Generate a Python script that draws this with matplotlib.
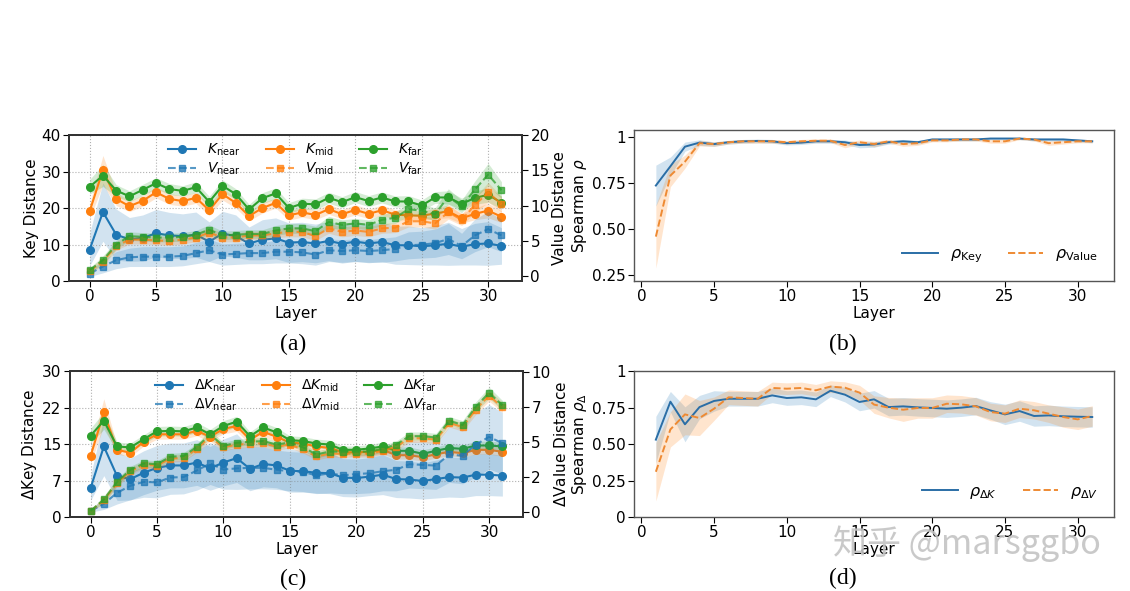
import numpy as np
import matplotlib.pyplot as plt
from matplotlib.ticker import FormatStrFormatter

# ---- data ----
layers = np.arange(32)
rho_layers = np.arange(1, 32)

# (a) key distance (left axis) / value distance (right axis)
k_near = [8.6, 18.9, 12.7, 11.4, 11.8, 13.1, 12.5, 12.3, 12.7, 10.8, 13.0, 12.3, 10.3, 11.3, 11.7, 10.5,
          10.7, 10.3, 11.0, 10.2, 10.8, 10.3, 10.7, 9.8, 9.8, 9.5, 9.8, 10.2, 9.4, 10.1, 10.3, 9.6]
k_near_sd = [4.5, 8.0, 7.0, 6.0, 6.3, 6.5, 6.3, 6.1, 6.2, 5.4, 6.1, 5.8, 4.5, 5.5, 5.6, 5.4,
             5.4, 5.3, 5.4, 5.3, 5.4, 5.3, 5.4, 5.2, 5.3, 5.1, 5.4, 5.9, 5.0, 5.7, 6.0, 5.0]
k_mid = [19.1, 30.4, 22.5, 20.5, 22.0, 24.3, 22.5, 21.9, 22.8, 19.4, 23.8, 21.4, 17.8, 20.0, 21.4, 18.0,
         18.8, 18.1, 19.7, 18.3, 19.5, 18.4, 19.4, 18.2, 18.0, 17.9, 18.5, 19.1, 17.2, 18.4, 19.3, 17.6]
k_mid_sd = [2.0, 4.0, 1.8, 1.5, 1.5, 1.5, 1.5, 1.4, 1.5, 1.5, 1.6, 1.4, 1.3, 1.4, 1.4, 1.3,
            1.3, 1.3, 1.4, 1.3, 1.4, 1.3, 1.4, 1.3, 1.4, 1.3, 1.4, 1.8, 1.4, 1.6, 2.0, 1.6]
k_far = [25.8, 28.9, 24.8, 23.2, 25.0, 26.8, 25.2, 24.7, 25.7, 21.7, 26.1, 23.8, 19.6, 22.7, 24.0, 20.0,
         21.2, 21.0, 22.8, 21.6, 23.0, 21.9, 22.9, 21.8, 21.8, 20.7, 22.9, 22.9, 21.1, 22.8, 23.6, 21.5]
k_far_sd = [2.0, 3.0, 1.6, 1.5, 1.5, 1.5, 1.5, 1.4, 1.5, 1.5, 1.6, 1.5, 1.4, 1.5, 1.5, 1.5,
            1.5, 1.5, 1.5, 1.5, 1.5, 1.5, 1.5, 1.5, 1.6, 1.5, 1.6, 1.8, 1.6, 1.8, 2.0, 1.8]
v_near = [0.4, 1.4, 2.3, 2.7, 2.8, 2.8, 2.8, 2.9, 3.3, 3.7, 3.1, 3.2, 3.3, 3.3, 3.5, 3.5,
          3.4, 3.1, 3.7, 3.6, 3.7, 3.6, 3.7, 3.9, 4.4, 4.5, 4.7, 5.3, 4.3, 5.8, 6.7, 5.8]
v_near_sd = [0.4, 0.9, 1.2, 1.3, 1.4, 1.4, 1.4, 1.4, 1.5, 1.6, 1.5, 1.5, 1.5, 1.5, 1.6, 1.6,
             1.6, 1.5, 1.6, 1.6, 1.6, 1.6, 1.7, 1.7, 1.9, 1.9, 2.0, 2.2, 1.8, 2.3, 2.5, 2.3]
v_mid = [0.8, 2.1, 4.3, 5.2, 5.2, 5.1, 5.0, 5.2, 5.5, 6.2, 5.5, 5.5, 5.8, 5.8, 6.1, 6.3,
         6.3, 5.7, 6.8, 6.3, 6.5, 6.3, 6.8, 6.9, 7.8, 7.8, 7.5, 9.1, 8.0, 10.1, 11.9, 10.2]
v_mid_sd = [0.3, 0.6, 0.6, 0.6, 0.6, 0.6, 0.6, 0.6, 0.6, 0.7, 0.6, 0.6, 0.6, 0.6, 0.6, 0.7,
            0.7, 0.6, 0.7, 0.7, 0.7, 0.7, 0.7, 0.7, 0.8, 0.8, 0.8, 1.0, 0.8, 1.1, 1.4, 1.1]
v_far = [0.9, 2.3, 4.5, 5.7, 5.6, 5.5, 5.5, 5.6, 5.9, 6.6, 5.8, 5.9, 6.0, 6.0, 6.5, 6.8,
         6.8, 6.4, 7.7, 7.3, 7.5, 7.3, 8.0, 8.3, 9.5, 9.3, 8.8, 11.3, 9.9, 12.3, 14.4, 12.2]
v_far_sd = [0.3, 0.6, 0.6, 0.6, 0.6, 0.6, 0.6, 0.6, 0.6, 0.7, 0.6, 0.6, 0.6, 0.6, 0.7, 0.7,
            0.7, 0.7, 0.8, 0.7, 0.7, 0.7, 0.8, 0.8, 0.9, 0.9, 0.9, 1.1, 0.9, 1.2, 1.6, 1.2]

# (c) delta key distance / delta value distance
dk_near = [5.9, 14.5, 8.4, 7.8, 9.1, 10.1, 10.6, 10.6, 11.2, 10.0, 11.2, 12.1, 9.9, 10.9, 10.6, 9.5,
           9.4, 9.1, 9.0, 8.1, 8.0, 8.3, 8.7, 7.8, 7.7, 7.4, 7.8, 8.2, 8.1, 8.7, 8.7, 8.5]
dk_near_sd = [2.5, 6.0, 5.0, 4.3, 4.5, 4.6, 4.6, 4.6, 4.7, 4.5, 4.8, 5.0, 4.5, 4.7, 4.6, 4.4,
              4.3, 4.2, 4.2, 3.9, 3.9, 3.9, 4.1, 3.8, 3.8, 3.7, 3.9, 4.1, 4.1, 4.3, 4.3, 4.2]
dk_mid = [12.5, 21.5, 13.8, 13.2, 15.5, 17.0, 17.0, 17.0, 17.7, 16.5, 18.1, 18.7, 15.9, 17.5, 16.5, 15.3,
          15.1, 14.5, 14.2, 13.3, 13.3, 13.4, 13.8, 12.7, 12.7, 12.3, 12.9, 13.4, 13.1, 13.8, 13.8, 13.4]
dk_mid_sd = [1.5, 2.8, 0.9, 0.8, 0.9, 1.0, 1.0, 1.0, 1.0, 1.0, 1.0, 1.1, 0.9, 1.0, 1.0, 0.9,
             0.9, 0.9, 0.9, 0.8, 0.8, 0.8, 0.8, 0.8, 0.8, 0.8, 0.8, 0.8, 0.8, 0.9, 0.9, 0.9]
dk_far = [16.7, 19.8, 14.5, 14.3, 16.0, 17.6, 17.7, 17.6, 18.4, 17.0, 18.7, 19.6, 16.6, 18.4, 17.4, 15.8,
          15.6, 15.1, 14.9, 13.8, 13.8, 14.1, 14.5, 13.6, 13.6, 13.0, 13.6, 14.2, 14.0, 14.7, 14.7, 14.5]
dk_far_sd = [1.5, 1.8, 0.9, 0.9, 0.9, 1.0, 1.0, 1.0, 1.0, 1.0, 1.1, 1.1, 0.9, 1.0, 1.0, 0.9,
             0.9, 0.9, 0.9, 0.8, 0.8, 0.8, 0.9, 0.8, 0.8, 0.8, 0.8, 0.9, 0.8, 0.9, 0.9, 0.9]
dv_near = [0.07, 0.57, 1.36, 1.86, 2.14, 2.1, 2.45, 2.48, 2.95, 3.45, 3.02, 3.1, 3.14, 3.14, 3.0, 2.9,
           2.85, 2.6, 2.75, 2.6, 2.7, 2.75, 2.9, 3.0, 3.4, 3.35, 3.3, 4.1, 4.0, 4.8, 5.35, 4.9]
dv_near_sd = [0.1, 0.4, 0.8, 1.0, 1.1, 1.1, 1.2, 1.2, 1.4, 1.5, 1.4, 1.5, 1.5, 1.5, 1.4, 1.4,
              1.4, 1.3, 1.4, 1.3, 1.4, 1.4, 1.4, 1.5, 1.7, 1.7, 1.7, 2.0, 2.0, 2.3, 2.3, 2.2]
dv_mid = [0.05, 0.82, 2.05, 2.9, 3.35, 3.3, 3.8, 3.85, 4.5, 5.35, 4.6, 4.8, 4.85, 4.9, 4.65, 4.8,
          4.45, 3.95, 4.15, 4.15, 4.15, 4.15, 4.35, 4.65, 5.25, 5.25, 5.15, 6.35, 6.05, 7.3, 8.3, 7.45]
dv_mid_sd = [0.05, 0.25, 0.25, 0.25, 0.25, 0.25, 0.25, 0.25, 0.25, 0.3, 0.25, 0.25, 0.25, 0.25, 0.25, 0.25,
             0.25, 0.25, 0.25, 0.25, 0.25, 0.25, 0.25, 0.25, 0.3, 0.3, 0.3, 0.3, 0.3, 0.35, 0.4, 0.35]
dv_far = [0.07, 0.88, 2.14, 3.0, 3.45, 3.4, 3.93, 3.98, 4.64, 5.52, 4.71, 4.93, 5.0, 5.05, 4.8, 4.95,
          4.6, 4.1, 4.3, 4.3, 4.3, 4.3, 4.5, 4.8, 5.4, 5.4, 5.3, 6.5, 6.2, 7.5, 8.5, 7.6]
dv_far_sd = [0.05, 0.25, 0.25, 0.25, 0.25, 0.25, 0.25, 0.25, 0.25, 0.3, 0.25, 0.25, 0.25, 0.25, 0.25, 0.25,
             0.25, 0.25, 0.25, 0.25, 0.25, 0.25, 0.25, 0.25, 0.3, 0.3, 0.3, 0.3, 0.3, 0.35, 0.4, 0.35]

# (b) spearman rho
rho_key = [0.736, 0.84, 0.946, 0.968, 0.96, 0.97, 0.975, 0.977, 0.975, 0.965, 0.968, 0.975, 0.975, 0.97,
           0.955, 0.958, 0.97, 0.975, 0.97, 0.985, 0.985, 0.985, 0.985, 0.99, 0.99, 0.99, 0.985, 0.985,
           0.985, 0.98, 0.975]
rho_key_sd = [0.11, 0.05, 0.025, 0.015, 0.012, 0.01, 0.01, 0.01, 0.01, 0.01, 0.01, 0.01, 0.01, 0.012,
              0.015, 0.015, 0.01, 0.01, 0.01, 0.008, 0.008, 0.008, 0.008, 0.006, 0.006, 0.006, 0.008, 0.008,
              0.008, 0.008, 0.008]
rho_value = [0.46, 0.79, 0.865, 0.965, 0.96, 0.97, 0.975, 0.975, 0.975, 0.97, 0.975, 0.978, 0.978, 0.955,
             0.97, 0.96, 0.975, 0.96, 0.965, 0.98, 0.98, 0.985, 0.985, 0.975, 0.975, 0.99, 0.985, 0.965,
             0.97, 0.975, 0.975]
rho_value_sd = [0.17, 0.06, 0.035, 0.015, 0.012, 0.01, 0.01, 0.01, 0.01, 0.01, 0.01, 0.01, 0.01, 0.015,
                0.012, 0.015, 0.01, 0.012, 0.012, 0.008, 0.008, 0.008, 0.008, 0.01, 0.01, 0.006, 0.008, 0.012,
                0.01, 0.008, 0.008]

# (d) spearman rho of deltas
rho_dk = [0.53, 0.79, 0.635, 0.753, 0.795, 0.81, 0.81, 0.81, 0.833, 0.815, 0.82, 0.806, 0.865, 0.838,
          0.788, 0.806, 0.753, 0.758, 0.751, 0.747, 0.742, 0.749, 0.76, 0.73, 0.703, 0.726, 0.692, 0.696,
          0.69, 0.687, 0.685]
rho_dk_sd = [0.16, 0.07, 0.12, 0.08, 0.07, 0.05, 0.05, 0.05, 0.05, 0.05, 0.05, 0.05, 0.04, 0.05,
             0.06, 0.06, 0.06, 0.06, 0.06, 0.06, 0.06, 0.06, 0.06, 0.06, 0.07, 0.07, 0.07, 0.07,
             0.07, 0.07, 0.07]
rho_dv = [0.31, 0.60, 0.703, 0.678, 0.742, 0.82, 0.815, 0.81, 0.884, 0.879, 0.884, 0.868, 0.893, 0.886,
          0.852, 0.77, 0.749, 0.735, 0.747, 0.747, 0.776, 0.772, 0.758, 0.719, 0.708, 0.742, 0.731, 0.708,
          0.685, 0.669, 0.692]
rho_dv_sd = [0.2, 0.12, 0.14, 0.12, 0.08, 0.05, 0.05, 0.05, 0.04, 0.04, 0.04, 0.04, 0.04, 0.04,
             0.05, 0.06, 0.07, 0.08, 0.07, 0.07, 0.06, 0.06, 0.06, 0.06, 0.06, 0.06, 0.06, 0.06,
             0.07, 0.07, 0.07]

BLUE, ORANGE, GREEN = '#1f77b4', '#ff7f0e', '#2ca02c'
FS = 11


def band(ax, x, y, sd, color, alpha):
    y = np.array(y)
    sd = np.array(sd)
    ax.fill_between(x, y - sd, y + sd, color=color, alpha=alpha, linewidth=0)


def distance_panel(rect, key_series, val_series, prefix, ylim_l, ylim_r, ticks_l, ticks_r, ylab_l, ylab_r):
    ax = fig.add_axes(rect)
    ax2 = ax.twinx()
    handles = []
    names = ['near', 'mid', 'far']
    colors = [BLUE, ORANGE, GREEN]
    for (k, ksd), (v, vsd), name, c in zip(key_series, val_series, names, colors):
        band(ax, layers, k, ksd, c, 0.2)
        band(ax2, layers, v, vsd, c, 0.2)
        hk, = ax.plot(layers, k, '-o', color=c, lw=1.5, ms=5.5,
                      label=r'%s$K_{\rm %s}$' % (prefix, name))
        hv, = ax2.plot(layers, v, '--s', color=c, lw=1.5, ms=4.5, alpha=0.75,
                       label=r'%s$V_{\rm %s}$' % (prefix, name))
        handles += [hk, hv]
    ax.set_xlim(-1.55, 32.55)
    ax.set_ylim(*ylim_l)
    ax2.set_ylim(*ylim_r)
    ax.set_yticks(ticks_l)
    ax2.set_yticks(ticks_r)
    ax.yaxis.set_major_formatter(FormatStrFormatter('%d'))
    ax2.yaxis.set_major_formatter(FormatStrFormatter('%d'))
    ax.set_xticks(range(0, 31, 5))
    ax.grid(True, linestyle=':', color='#b0b0b0', linewidth=0.8)
    ax.set_xlabel('Layer', fontsize=FS, labelpad=1)
    ax.set_ylabel(ylab_l, fontsize=FS, labelpad=2)
    ax2.set_ylabel(ylab_r, fontsize=FS, labelpad=2)
    for a in (ax, ax2):
        a.tick_params(labelsize=FS, length=4, pad=2)
        for s in a.spines.values():
            s.set_color('#333333')
            s.set_linewidth(1.3)
    ax2.legend(handles=handles, loc='upper center', ncol=3, frameon=False, fontsize=10,
               handlelength=2.0, columnspacing=1.8, labelspacing=0.15, borderaxespad=0.1,
               handletextpad=0.8)
    return ax


def rho_panel(rect, a, a_sd, b, b_sd, ylim, ticks, ticklabels, ylab, labels):
    ax = fig.add_axes(rect)
    band(ax, rho_layers, a, a_sd, BLUE, 0.2)
    band(ax, rho_layers, b, b_sd, ORANGE, 0.2)
    ax.plot(rho_layers, a, '-', color='#2a6ea6', lw=1.4, label=labels[0])
    ax.plot(rho_layers, b, '--', color='#ee8a33', lw=1.4, label=labels[1])
    ax.set_ylim(*ylim)
    ax.set_yticks(ticks)
    ax.set_yticklabels(ticklabels)
    ax.set_xticks(range(0, 31, 5))
    ax.set_xlabel('Layer', fontsize=FS, labelpad=1)
    ax.set_ylabel(ylab, fontsize=FS, labelpad=2)
    ax.tick_params(labelsize=FS, length=4, pad=2)
    for s in ax.spines.values():
        s.set_color('#555555')
        s.set_linewidth(1.0)
    ax.legend(loc='lower right', ncol=2, frameon=False, fontsize=11.5, handlelength=2.2,
              handletextpad=0.75, columnspacing=1.6, borderaxespad=0.6)
    return ax


fig = plt.figure(figsize=(11.3, 5.91), dpi=100)

distance_panel([0.0611, 0.5245, 0.4009, 0.2470],
               [(k_near, k_near_sd), (k_mid, k_mid_sd), (k_far, k_far_sd)],
               [(v_near, v_near_sd), (v_mid, v_mid_sd), (v_far, v_far_sd)],
               '', (0, 40), (-0.65, 20), [0, 10, 20, 30, 40], [0, 5, 10, 15, 20],
               'Key Distance', 'Value Distance')

distance_panel([0.0619, 0.1252, 0.4009, 0.2470],
               [(dk_near, dk_near_sd), (dk_mid, dk_mid_sd), (dk_far, dk_far_sd)],
               [(dv_near, dv_near_sd), (dv_mid, dv_mid_sd), (dv_far, dv_far_sd)],
               r'$\Delta$', (0, 30), (-0.37, 10.05), [0, 7.5, 15, 22.5, 30], [0, 2.5, 5, 7.5, 10],
               r'$\Delta$Key Distance', r'$\Delta$Value Distance')

rho_panel([0.5611, 0.5245, 0.4248, 0.2555], rho_key, rho_key_sd, rho_value, rho_value_sd,
          (0.22, 1.036), [0.25, 0.5, 0.75, 1.0], ['0.25', '0.50', '0.75', '1'],
          r'Spearman $\rho$', [r'$\rho_{\rm Key}$', r'$\rho_{\rm Value}$'])

rho_panel([0.5611, 0.1252, 0.4248, 0.2470], rho_dk, rho_dk_sd, rho_dv, rho_dv_sd,
          (0, 1), [0, 0.25, 0.5, 0.75, 1.0], ['0', '0.25', '0.50', '0.75', '1'],
          r'Spearman $\rho_{\Delta}$', [r'$\rho_{\Delta K}$', r'$\rho_{\Delta V}$'])

# panel captions
for x, y, t in [(0.259, 0.418, '(a)'), (0.746, 0.418, '(b)'), (0.259, 0.020, '(c)'), (0.746, 0.022, '(d)')]:
    fig.text(x, y, t, ha='center', va='center', fontsize=17, family='Liberation Serif')

# watermark
fig.text(0.856, 0.080, '知乎 @marsggbo', ha='center', va='center', fontsize=24.5, color='#c4c4c4',
         alpha=0.9, family=['Noto Sans CJK SC', 'DejaVu Sans'])

fig.savefig('out.png', dpi=100)
